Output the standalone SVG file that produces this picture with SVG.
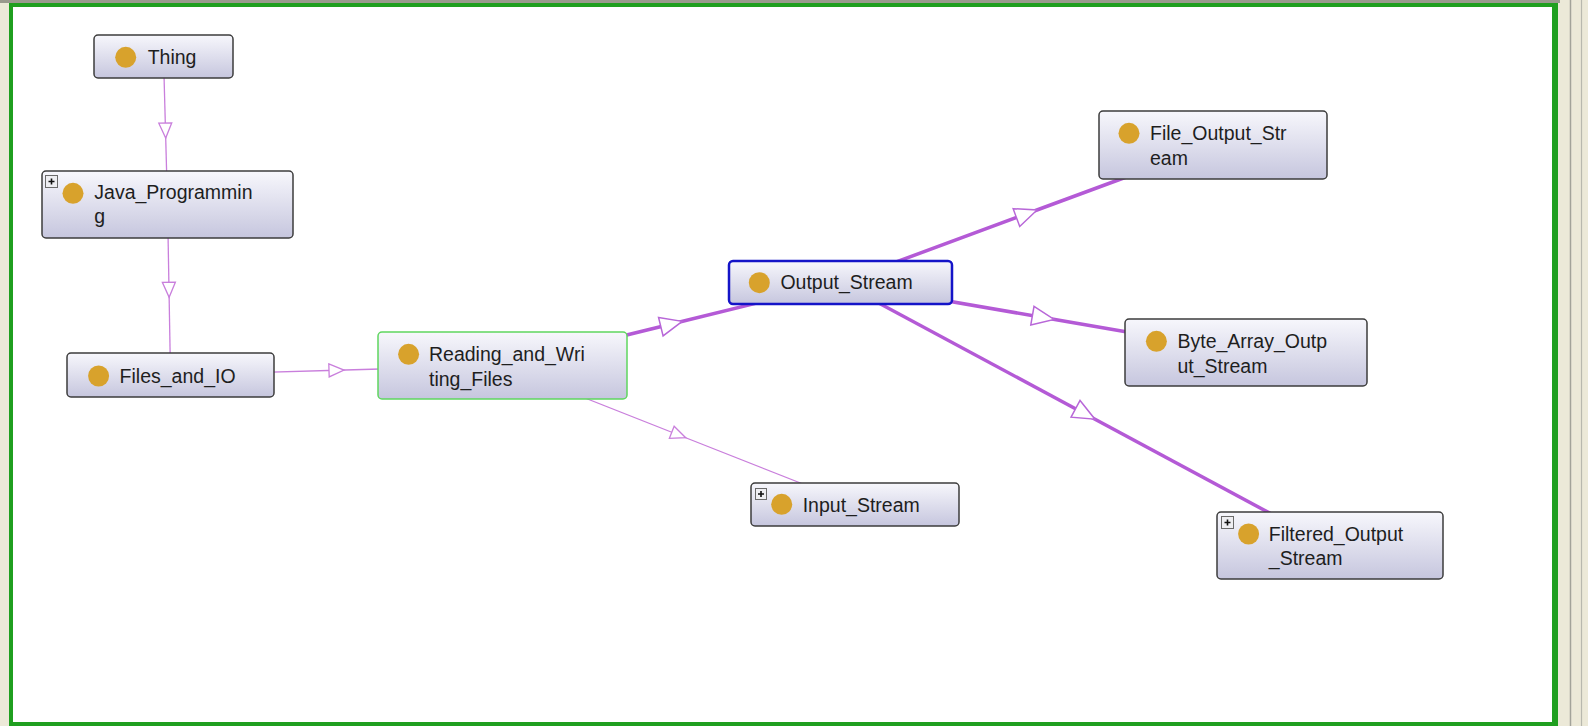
<svg xmlns="http://www.w3.org/2000/svg" width="1588" height="726" viewBox="0 0 1588 726">
<style>
.node rect.box{fill:url(#ng);stroke:#3c3c3c;stroke-width:1.5}
.node text{font-family:"Liberation Sans",Arial,sans-serif;font-size:19.5px;fill:#1e1e1e}
.dot{fill:#d8a22c}
.thin{fill:none;stroke:#c97fdc;stroke-width:1.3;marker-mid:url(#ta)}
.thick{fill:none;stroke:#b45ad6;stroke-width:3.5;marker-mid:url(#TA)}
.plus rect{fill:#eeeef2;stroke:#6a6a6a;stroke-width:1}
.plus path{stroke:#111;stroke-width:1.6}
</style>
<defs>
<linearGradient id="ng" x1="0" y1="0" x2="0" y2="1">
<stop offset="0" stop-color="#f7f7fc"/>
<stop offset="1" stop-color="#c6c6de"/>
</linearGradient>
<marker id="ta" markerUnits="userSpaceOnUse" orient="auto" refX="7.5" refY="6.5" markerWidth="16" markerHeight="14" overflow="visible">
<path d="M0,0 L15,6.5 L0,13 Z" fill="#fff" stroke="#c97fdc" stroke-width="1.3"/>
</marker>
<marker id="TA" markerUnits="userSpaceOnUse" orient="auto" refX="11" refY="9.5" markerWidth="24" markerHeight="20" overflow="visible">
<path d="M0,0 L22,9.5 L0,19 Z" fill="#fff" stroke="#b867d8" stroke-width="1.5"/>
</marker>
</defs>
<rect x="0" y="0" width="1588" height="726" fill="#ece9d8"/>
<rect x="0" y="0" width="1560" height="3" fill="#9a9a8e"/>
<rect x="11" y="5" width="1543" height="719" fill="#fff"/>
<rect x="9" y="3" width="4" height="723" fill="#1f9f1f"/>
<rect x="9" y="3" width="1549" height="4" fill="#1f9f1f"/>
<rect x="1552" y="3" width="6" height="723" fill="#1f9f1f"/>
<rect x="9" y="722" width="1549" height="4" fill="#1f9f1f"/>
<line x1="1570.5" y1="0" x2="1570.5" y2="726" stroke="#a3a39a" stroke-width="1.5"/>
<line x1="1581.5" y1="0" x2="1581.5" y2="726" stroke="#b8b8ae" stroke-width="1.2"/>

<g id="connectors">
<polyline class="thin" points="163.5,56.5 165.5,130.5 167.5,204.5"/>
<polyline class="thin" points="167.5,204.5 169,289.75 170.5,375"/>
<polyline class="thin" points="170.5,375 336.5,370.25 502.5,365.5"/>
<polyline class="thick" points="502.5,365.5 671.5,324 840.5,282.5"/>
<polyline class="thin" points="502.5,365.5 678.75,435 855,504.5"/>
<polyline class="thick" points="840.5,282.5 1026.75,213.75 1213,145"/>
<polyline class="thick" points="840.5,282.5 1043.25,317.5 1246,352.5"/>
<polyline class="thick" points="840.5,282.5 1085.25,414 1330,545.5"/>
</g>

<g id="node-thing" class="node">
<rect class="box" x="94" y="35" width="139" height="43" rx="4"/>
<circle class="dot" cx="125.7" cy="57.3" r="10.5"/>
<text x="147.7" y="64">Thing</text>
</g>
<g id="node-java" class="node">
<rect class="box" x="42" y="171" width="251" height="67" rx="4"/>
<g class="plus"><rect x="45.5" y="175.5" width="12" height="12"/><path d="M48.5,181.5h6M51.5,178.5v6"/></g>
<circle class="dot" cx="73" cy="193.3" r="10.5"/>
<text x="94.3" y="199">Java_Programmin<tspan x="94.3" y="223">g</tspan></text>
</g>
<g id="node-files" class="node">
<rect class="box" x="67" y="353" width="207" height="44" rx="4"/>
<circle class="dot" cx="98.6" cy="376" r="10.5"/>
<text x="119.6" y="383">Files_and_IO</text>
</g>
<g id="node-reading" class="node">
<rect class="box" x="378" y="332" width="249" height="67" rx="4" style="stroke:#5fd65f"/>
<circle class="dot" cx="408.6" cy="354.3" r="10.5"/>
<text x="429" y="361">Reading_and_Wri<tspan x="429" y="385.5">ting_Files</tspan></text>
</g>
<g id="node-output" class="node">
<rect class="box" x="729" y="261" width="223" height="43" rx="4" style="stroke:#1414c8;stroke-width:2.5"/>
<circle class="dot" cx="759.3" cy="282.7" r="10.5"/>
<text x="780.4" y="289">Output_Stream</text>
</g>
<g id="node-fileout" class="node">
<rect class="box" x="1099" y="111" width="228" height="68" rx="4"/>
<circle class="dot" cx="1129" cy="133.3" r="10.5"/>
<text x="1150" y="140">File_Output_Str<tspan x="1150" y="165">eam</tspan></text>
</g>
<g id="node-byte" class="node">
<rect class="box" x="1125" y="319" width="242" height="67" rx="4"/>
<circle class="dot" cx="1156.4" cy="341.3" r="10.5"/>
<text x="1177.5" y="348">Byte_Array_Outp<tspan x="1177.5" y="373">ut_Stream</tspan></text>
</g>
<g id="node-input" class="node">
<rect class="box" x="751" y="483" width="208" height="43" rx="4"/>
<g class="plus"><rect x="755.5" y="488.5" width="11" height="11"/><path d="M758,494h6M761,491v6"/></g>
<circle class="dot" cx="781.7" cy="504.3" r="10.5"/>
<text x="802.7" y="511.7">Input_Stream</text>
</g>
<g id="node-filtered" class="node">
<rect class="box" x="1217" y="512" width="226" height="67" rx="4"/>
<g class="plus"><rect x="1221.5" y="516.5" width="12" height="12"/><path d="M1224.5,522.5h6M1227.5,519.5v6"/></g>
<circle class="dot" cx="1248.6" cy="534" r="10.5"/>
<text x="1268.8" y="540.7">Filtered_Output<tspan x="1268.8" y="565">_Stream</tspan></text>
</g>
</svg>
